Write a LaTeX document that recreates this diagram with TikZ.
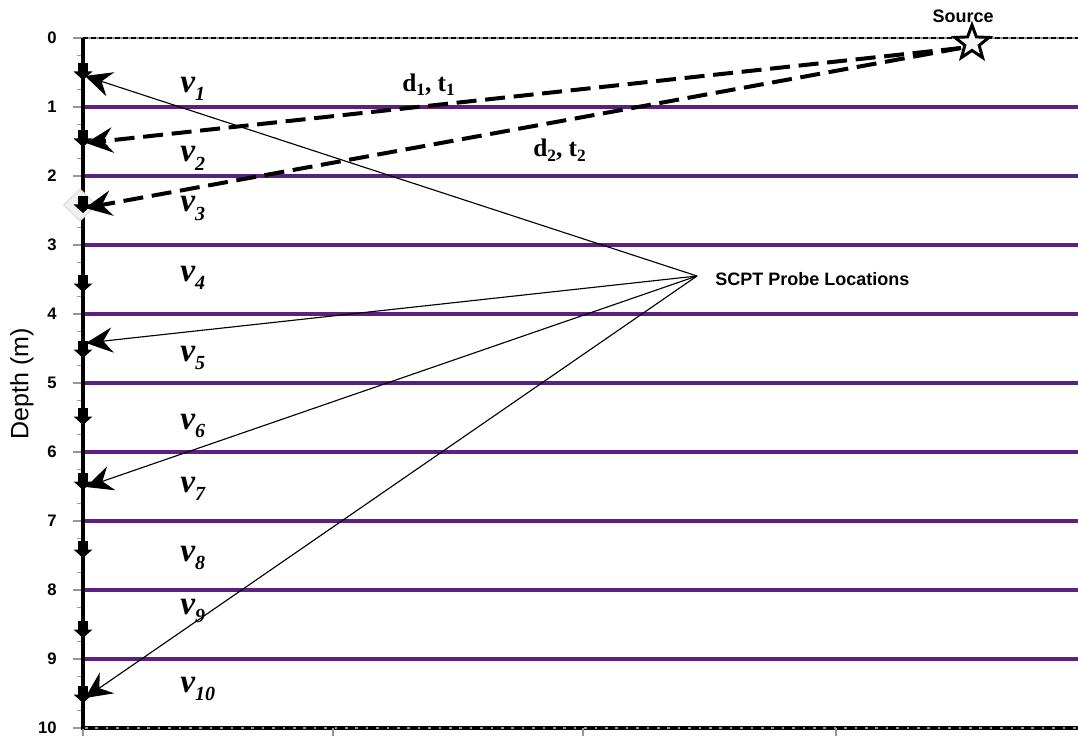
\documentclass[tikz,border=0pt]{standalone}
\usepackage{fontspec}
\setmainfont{Liberation Serif}
\setsansfont{Liberation Sans}
\usetikzlibrary{arrows.meta,shapes.geometric}
\definecolor{layer}{RGB}{92,32,128}
\definecolor{tickgray}{RGB}{150,150,150}
\newcommand\vlab[1]{\fontsize{25}{25}\selectfont\bfseries\itshape v\raisebox{-6pt}{\fontsize{15}{15}\selectfont #1}}
\newcommand\dtlab[1]{\fontsize{19}{19}\selectfont\bfseries d\raisebox{-3pt}{\fontsize{13}{13}\selectfont #1}, t\raisebox{-3pt}{\fontsize{13}{13}\selectfont #1}}
\tikzset{
  layerline/.style={draw=layer,line width=2.6pt},
  ticklab/.style={font=\fontsize{12.5}{12.5}\selectfont\sffamily\bfseries,anchor=east,inner sep=0pt},
  vnode/.style={anchor=base west,inner sep=0pt},
  bigtip/.style={-{Stealth[length=20pt,width=19pt,inset=7pt]}},
  raythin/.style={bigtip,line width=0.85pt},
  raydash/.style={bigtip,line width=3pt,dash pattern=on 15pt off 6.5pt},
  probe/.style={fill=black,draw=none},
}
\begin{document}
\begin{tikzpicture}[x=0.75pt,y=-0.75pt]
\useasboundingbox (0,0) rectangle (1078,738);
% layer lines
\foreach \k in {1,...,9}{
  \draw[layerline] (83,38+69*\k) -- (1078,38+69*\k);
}
% top dashed line
\draw[tickgray,line width=1pt] (74,38) -- (1078,38);
\draw[black,line width=1pt,dash pattern=on 4pt off 2pt] (83,38) -- (1078,38);
% left ticks
\foreach \k in {0,...,10}{
  \draw[tickgray,line width=1pt] (73,38+69*\k) -- (83,38+69*\k);
  \node[ticklab] (t\k) at (57,38+69*\k) {\k};
}
\foreach \k in {0,...,9}{
  \draw[tickgray,line width=1pt] (77,38+69*\k+17.25) -- (83,38+69*\k+17.25);
  \draw[tickgray,line width=1pt] (77,38+69*\k+51.75) -- (83,38+69*\k+51.75);
}
% bottom axis
\draw[black,line width=2.6pt] (81,728) -- (1078,728);
\draw[tickgray,line width=1.3pt,dash pattern=on 2pt off 5.8pt] (85,728) -- (1078,728);
\foreach \x in {83,333,583,836}{
  \draw[tickgray,line width=1pt] (\x,728) -- (\x,736);
}
% vertical axis
\draw[black,line width=2.6pt] (83,38) -- (83,729);
% shadow diamond
\node[diamond,fill=gray!12,draw=gray!25,line width=1pt,minimum width=25pt,minimum height=24pt] (dia) at (80,205) {};
% probe markers
\foreach \t in {80,147,213,292,358,425,490,558,638,703}{
  \fill[probe] (78,\t-17) rectangle (88,\t-8);
  \fill[probe] (73.5,\t-8.5) -- (92.5,\t-8.5) -- (83,\t) -- cycle;
}
% coordinates
\coordinate (scpt) at (697,276);
\coordinate (src) at (961,48);
\coordinate (a1) at (85,76);
\coordinate (a5) at (86,343);
\coordinate (a7) at (86,487);
\coordinate (a10) at (85,698);
\coordinate (b2) at (86,143);
\coordinate (b3) at (85,208);
% thin rays
\draw[raythin] (scpt) -- (a1);
\draw[raythin] (scpt) -- (a5);
\draw[raythin] (scpt) -- (a7);
\draw[raythin] (scpt) -- (a10);
% dashed rays
\draw[raydash] (src) -- (b2);
\draw[raydash] (src) -- (b3);
% star
\node[star,star points=5,star point ratio=2.4,minimum size=27pt,fill=gray!8,draw=black,line width=2.2pt,inner sep=0pt] (star) at (972,43) {};
% labels
\node[font=\fontsize{13.5}{13.5}\selectfont\sffamily\bfseries,inner sep=0pt] (srclab) at (963,16) {Source};
\node[font=\fontsize{13.5}{13.5}\selectfont\sffamily\bfseries,inner sep=0pt,anchor=west] (scptlab) at (715,279) {SCPT Probe Locations};
\node[font=\fontsize{18.75}{18.75}\selectfont\sffamily,rotate=90,inner sep=0pt] (depth) at (22,384) {Depth (m)};
\node[vnode] (v1) at (180,93) {\vlab{1}};
\node[vnode] (v2) at (180,162) {\vlab{2}};
\node[vnode] (v3) at (180,212) {\vlab{3}};
\node[vnode] (v4) at (180,281) {\vlab{4}};
\node[vnode] (v5) at (180,361) {\vlab{5}};
\node[vnode] (v6) at (180,429) {\vlab{6}};
\node[vnode] (v7) at (180,492) {\vlab{7}};
\node[vnode] (v8) at (180,561) {\vlab{8}};
\node[vnode] (v9) at (180,614) {\vlab{9}};
\node[vnode] (v10) at (180,692) {\vlab{10}};
\node[vnode] (dt1) at (402,92) {\dtlab{1}};
\node[vnode] (dt2) at (533,157) {\dtlab{2}};
\end{tikzpicture}
\end{document}
